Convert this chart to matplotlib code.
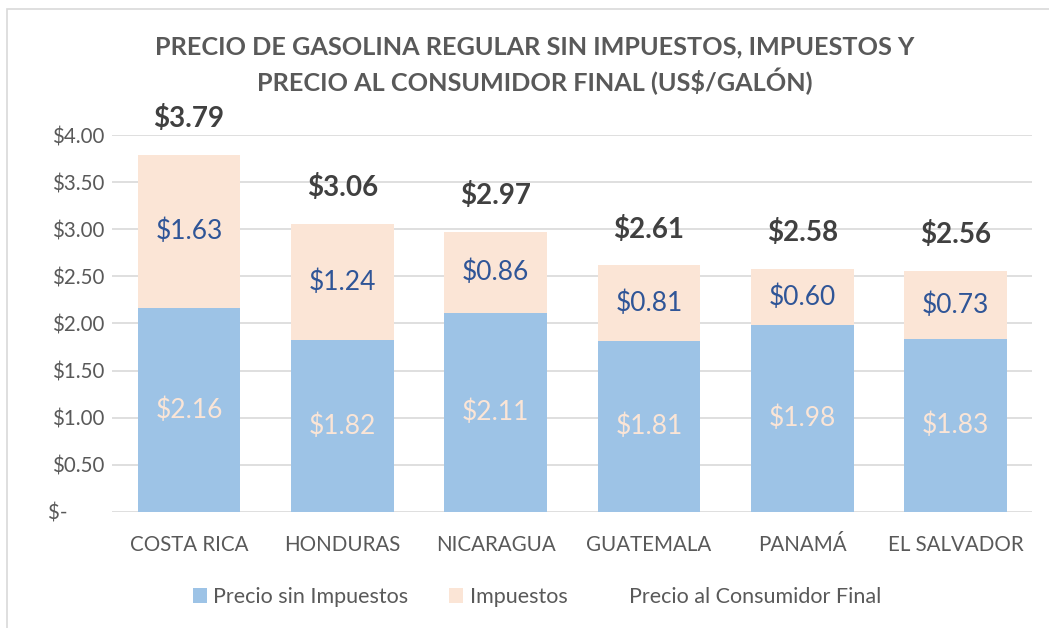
import matplotlib.pyplot as plt
from matplotlib.patches import Rectangle
from matplotlib.lines import Line2D

plt.rcParams['font.family'] = ['Lato', 'DejaVu Sans']

paises = ['COSTA RICA', 'HONDURAS', 'NICARAGUA', 'GUATEMALA', 'PANAMÁ', 'EL SALVADOR']
sin_impuestos = [2.16, 1.82, 2.11, 1.81, 1.98, 1.83]
impuestos = [1.63, 1.24, 0.86, 0.81, 0.60, 0.73]
precio_final = [3.79, 3.06, 2.97, 2.61, 2.58, 2.56]
yticks = [0, 0.5, 1.0, 1.5, 2.0, 2.5, 3.0, 3.5, 4.0]

c_base = '#9DC3E6'
c_imp = '#FBE5D6'

fig = plt.figure(figsize=(10.49, 6.28), dpi=100)
ax = fig.add_axes([0.107, 0.185, 0.877, 0.600])

# chart border
fig.add_artist(Rectangle((7 / 1049, -0.1), 1.2, 1 - 9 / 628 + 0.1, transform=fig.transFigure,
                         fill=False, edgecolor='#D9D9D9', lw=1.2))

x = range(len(paises))
b1 = ax.bar(x, sin_impuestos, width=0.67, color=c_base, zorder=2)
b2 = ax.bar(x, impuestos, width=0.67, bottom=sin_impuestos, color=c_imp, zorder=2)

for i in x:
    ax.text(i, sin_impuestos[i] / 2, f'${sin_impuestos[i]:.2f}', ha='center', va='center',
            fontsize=19, color=c_imp)
    ax.text(i, sin_impuestos[i] + impuestos[i] / 2, f'${impuestos[i]:.2f}', ha='center',
            va='center', fontsize=19, color='#2F5597')
    ax.annotate(f'${precio_final[i]:.2f}', (i, precio_final[i]), xytext=(0, 26),
                textcoords='offset points', ha='center', va='center', fontsize=20,
                fontweight='bold', color='#404040', annotation_clip=False)

ax.set_ylim(0, 4.0)
ax.set_xlim(-0.5, len(paises) - 0.5)
ax.set_yticks(yticks)
ax.set_yticklabels(['$-       '] + [f'${v:.2f}' for v in yticks[1:]])
ax.set_xticks(list(x))
ax.set_xticklabels(paises)
ax.tick_params(axis='both', length=0, labelsize=14.8, colors='#595959', pad=6)
ax.tick_params(axis='x', pad=17)
ax.grid(axis='y', color='#D9D9D9', lw=1.2, zorder=0)
for s in ax.spines.values():
    s.set_visible(False)

fig.text(0.510, 0.896, 'PRECIO DE GASOLINA REGULAR SIN IMPUESTOS, IMPUESTOS Y\nPRECIO AL CONSUMIDOR FINAL (US$/GALÓN)',
         ha='center', va='center', fontsize=18.2, fontweight='bold', color='#595959', linespacing=1.4)

handles = [b1, b2, Line2D([], [], color='none')]
labels = ['Precio sin Impuestos', 'Impuestos', 'Precio al Consumidor Final']
leg = fig.legend(handles, labels, loc='center', bbox_to_anchor=(0.512, 0.049), ncol=3,
                 frameon=False, fontsize=15.5, handlelength=0.65, handleheight=0.65,
                 handletextpad=0.3, columnspacing=1.9)
for t in leg.get_texts():
    t.set_color('#595959')

fig.savefig('out.png', dpi=100)
